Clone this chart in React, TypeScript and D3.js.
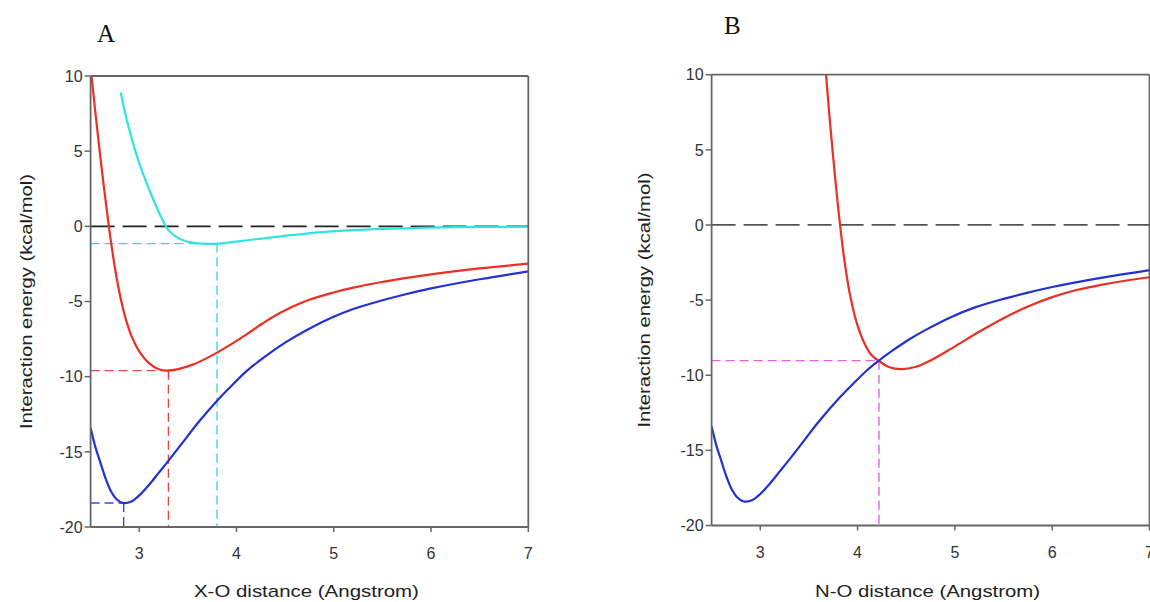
import React from 'react'
import * as d3 from 'd3'

type Pt = [number, number]

// axis ticks shared by both panels
const xTicks = [3, 4, 5, 6, 7]
const yTicks = [10, 5, 0, -5, -10, -15, -20]

// distance (Angstrom), energy (kcal/mol)
const blueCurve: Pt[] = [
  [2.5, -13.4], [2.55, -14.7], [2.6, -15.7], [2.65, -16.7], [2.7, -17.5], [2.76, -18.1],
  [2.83, -18.4], [2.92, -18.3], [3.0, -17.9], [3.1, -17.2], [3.2, -16.4], [3.3, -15.6],
  [3.45, -14.35], [3.6, -13.1], [3.8, -11.6], [3.95, -10.6], [4.1, -9.65], [4.22, -9.02],
  [4.35, -8.4], [4.5, -7.74], [4.7, -6.98], [4.97, -6.1], [5.2, -5.5], [5.5, -4.92],
  [5.75, -4.5], [6.0, -4.13], [6.5, -3.52], [7.0, -3.0],
]

const redCurveA: Pt[] = [
  [2.5, 10.6], [2.55, 7.52], [2.6, 4.62], [2.64, 2.44], [2.68, 0.38], [2.72, -1.5],
  [2.76, -3.14], [2.8, -4.52], [2.85, -5.9], [2.9, -6.95], [2.95, -7.73], [3.0, -8.32],
  [3.1, -9.1], [3.2, -9.5], [3.28, -9.6], [3.4, -9.5], [3.55, -9.2], [3.7, -8.75],
  [3.8, -8.4], [3.93, -7.9], [4.1, -7.2], [4.27, -6.45], [4.45, -5.75], [4.7, -5.0],
  [4.97, -4.45], [5.2, -4.08], [5.48, -3.72], [5.75, -3.43], [6.0, -3.19], [6.5, -2.8],
  [7.0, -2.48],
]

const cyanCurve: Pt[] = [
  [2.81, 8.9], [2.86, 7.4], [2.92, 5.9], [3.0, 4.2], [3.08, 2.8], [3.16, 1.55], [3.23, 0.55],
  [3.3, -0.25], [3.38, -0.7], [3.47, -0.98], [3.58, -1.12], [3.7, -1.17], [3.8, -1.15],
  [3.95, -1.05], [4.2, -0.86], [4.45, -0.67], [4.65, -0.53], [4.97, -0.34], [5.5, -0.17],
  [6.0, -0.08], [6.5, -0.04], [7.0, -0.02],
]

const redCurveB: Pt[] = [
  [3.676, 10], [3.72, 6.6], [3.77, 3.1], [3.82, 0], [3.87, -2.6], [3.93, -4.9], [4.0, -6.7],
  [4.08, -8.0], [4.15, -8.7], [4.22, -9.05], [4.32, -9.45], [4.45, -9.6], [4.6, -9.44],
  [4.75, -9.02], [4.98, -8.16], [5.25, -7.11], [5.5, -6.21], [5.75, -5.43], [6.0, -4.8],
  [6.25, -4.33], [6.5, -3.99], [6.75, -3.71], [7.0, -3.48],
]

// dashed drop lines: [distance, energy]
const guidesA = [
  { at: [3.8, -1.15] as Pt, color: '#3ad8dc' },
  { at: [3.3, -9.6] as Pt, color: '#e2473f' },
  { at: [2.84, -18.4] as Pt, color: '#3a48d6' },
]
const guidesB = [{ at: [4.22, -9.03] as Pt, color: '#e45fe6' }]

const RED = '#ec2f24'
const BLUE = '#2231d4'
const CYAN = '#2fe3e3'
const FONT = '"Liberation Sans", Arial, sans-serif'

type Series = { pts: Pt[]; color: string }
type PanelProps = {
  id: string
  box: { left: number; right: number; top: number; bottom: number }
  letter: string
  letterPos: [number, number]
  xTitle: string
  yTitleX: number
  series: Series[]
  guides: { at: Pt; color: string }[]
  zeroColor: string
}

const Panel = ({ id, box, letter, letterPos, xTitle, yTitleX, series, guides, zeroColor }: PanelProps) => {
  const x = d3.scaleLinear().domain([2.5, 7]).range([box.left, box.right])
  const y = d3.scaleLinear().domain([-20, 10]).range([box.bottom, box.top])
  const line = d3.line<Pt>().x(d => x(d[0])).y(d => y(d[1])).curve(d3.curveCatmullRom.alpha(0.5))
  const axisColor = '#666'

  return (
    <g>
      <defs>
        <clipPath id={id}>
          <rect x={box.left} y={box.top - 1} width={box.right - box.left} height={box.bottom - box.top + 1} />
        </clipPath>
      </defs>

      <text x={letterPos[0]} y={letterPos[1]} fontFamily='"Liberation Serif", "Times New Roman", serif' fontSize={25} fill="#111">
        {letter}
      </text>

      {/* zero line */}
      <line x1={x(2.5)} x2={x(7)} y1={y(0)} y2={y(0)} stroke={zeroColor} strokeWidth={1.8} strokeDasharray="24 8" />

      {/* drop lines */}
      {guides.map((g, i) => (
        <g key={i} stroke={g.color} strokeWidth={1.4} strokeDasharray="9 5" fill="none">
          <line x1={x(2.5)} x2={x(g.at[0])} y1={y(g.at[1])} y2={y(g.at[1])} />
          <line x1={x(g.at[0])} x2={x(g.at[0])} y1={y(g.at[1])} y2={y(-20)} />
        </g>
      ))}

      <g clipPath={`url(#${id})`}>
        {series.map((s, i) => (
          <path key={i} d={line(s.pts) ?? ''} fill="none" stroke={s.color} strokeWidth={2.2} />
        ))}
      </g>

      {/* frame */}
      <g stroke={axisColor} strokeWidth={1.8} fill="none">
        <line x1={box.left} x2={box.right} y1={box.top} y2={box.top} />
        <line x1={box.right} x2={box.right} y1={box.top} y2={box.bottom} />
        <line x1={box.left} x2={box.left} y1={box.top} y2={box.bottom} />
        <line x1={box.left} x2={box.right} y1={box.bottom} y2={box.bottom} />
      </g>

      {yTicks.map(t => (
        <g key={t}>
          <line x1={box.left - 6} x2={box.left} y1={y(t)} y2={y(t)} stroke={axisColor} strokeWidth={1.5} />
          <text x={box.left - 8} y={y(t)} dy="0.36em" textAnchor="end" fontFamily={FONT} fontSize={16} fill="#333">
            {t}
          </text>
        </g>
      ))}
      {xTicks.map(t => (
        <g key={t}>
          <line x1={x(t)} x2={x(t)} y1={box.bottom} y2={box.bottom + 5} stroke={axisColor} strokeWidth={1.5} />
          <text x={x(t)} y={box.bottom + 32} textAnchor="middle" fontFamily={FONT} fontSize={16} fill="#333">
            {t}
          </text>
        </g>
      ))}

      <text
        x={(x(2.5) + x(7)) / 2 - 3}
        y={597}
        textAnchor="middle"
        fontFamily={FONT}
        fontSize={17}
        fill="#222"
        textLength={225}
        lengthAdjust="spacingAndGlyphs"
      >
        {xTitle}
      </text>
      <text
        transform={`translate(${yTitleX},${(box.top + box.bottom) / 2}) rotate(-90)`}
        textAnchor="middle"
        fontFamily={FONT}
        fontSize={17}
        fill="#222"
        textLength={255}
        lengthAdjust="spacingAndGlyphs"
      >
        Interaction energy (kcal/mol)
      </text>
    </g>
  )
}

export default function App() {
  return (
    <div style={{ position: 'absolute', left: 0, top: 0, width: 1150, height: 602, background: '#fff' }}>
      <svg width={1150} height={602} style={{ display: 'block' }}>
        <Panel
          id="clipA"
          box={{ left: 90.6, right: 528.3, top: 76, bottom: 527 }}
          letter="A"
          letterPos={[97, 42]}
          xTitle="X-O distance (Angstrom)"
          yTitleX={32}
          series={[
            { pts: cyanCurve, color: CYAN },
            { pts: redCurveA, color: RED },
            { pts: blueCurve, color: BLUE },
          ]}
          guides={guidesA}
          zeroColor="#222"
        />
        <Panel
          id="clipB"
          box={{ left: 711.6, right: 1149.5, top: 74.7, bottom: 525.5 }}
          letter="B"
          letterPos={[724, 34]}
          xTitle="N-O distance (Angstrom)"
          yTitleX={650}
          series={[
            { pts: redCurveB, color: RED },
            { pts: blueCurve, color: BLUE },
          ]}
          guides={guidesB}
          zeroColor="#555"
        />
      </svg>
    </div>
  )
}
